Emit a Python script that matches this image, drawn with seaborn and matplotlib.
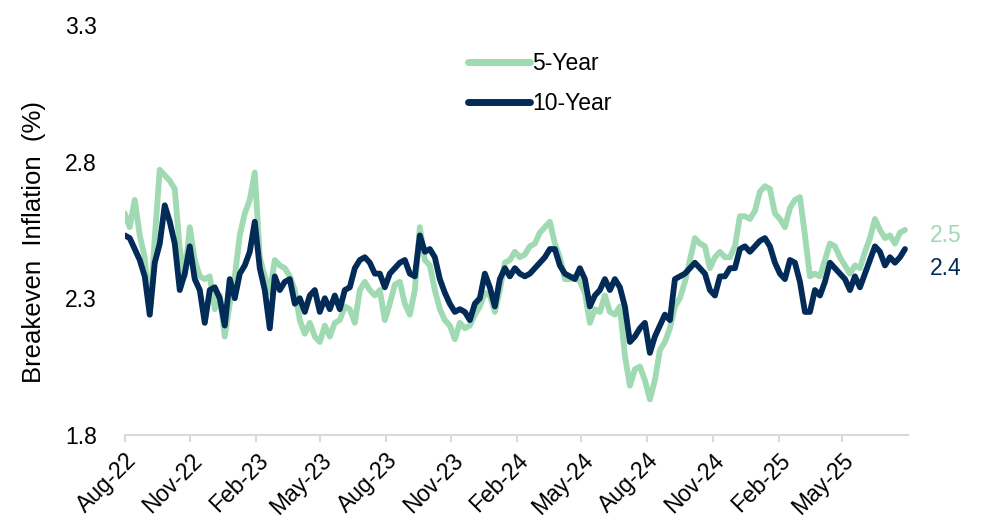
import pandas as pd
import numpy as np
import matplotlib
matplotlib.use("Agg")
import matplotlib.pyplot as plt
import matplotlib.transforms as mtransforms
import seaborn as sns

# weekly readings, starting 1 Aug 2022
start_date = "2022-08-01"

five_year = [
    2.61, 2.56, 2.66, 2.53, 2.45, 2.24, 2.52, 2.77, 2.75, 2.73,
    2.70, 2.48, 2.38, 2.56, 2.44, 2.38, 2.37, 2.38, 2.26, 2.31,
    2.16, 2.28, 2.38, 2.53, 2.61, 2.66, 2.76, 2.45, 2.38, 2.32,
    2.44, 2.42, 2.41, 2.38, 2.33, 2.22, 2.17, 2.21, 2.16, 2.14,
    2.20, 2.16, 2.21, 2.22, 2.27, 2.26, 2.21, 2.33, 2.36, 2.33,
    2.31, 2.33, 2.22, 2.28, 2.35, 2.36, 2.28, 2.24, 2.33, 2.56,
    2.44, 2.42, 2.33, 2.26, 2.22, 2.20, 2.15, 2.21, 2.19, 2.20,
    2.24, 2.27, 2.32, 2.31, 2.25, 2.33, 2.43, 2.44, 2.47, 2.45,
    2.46, 2.49, 2.50, 2.54, 2.56, 2.58, 2.50, 2.45, 2.37, 2.37,
    2.38, 2.36, 2.32, 2.21, 2.26, 2.25, 2.31, 2.25, 2.24, 2.27,
    2.09, 1.98, 2.04, 2.05, 2.00, 1.93, 2.00, 2.11, 2.14, 2.19,
    2.27, 2.30, 2.36, 2.44, 2.52, 2.50, 2.49, 2.41, 2.45, 2.47,
    2.45, 2.45, 2.49, 2.60, 2.60, 2.59, 2.62, 2.69, 2.71, 2.70,
    2.61, 2.59, 2.56, 2.63, 2.66, 2.67, 2.53, 2.38, 2.39, 2.38,
    2.44, 2.50, 2.49, 2.45, 2.42, 2.39, 2.42, 2.41, 2.47, 2.52,
    2.59, 2.55, 2.52, 2.53, 2.50, 2.54, 2.55,
]

ten_year = [
    2.53, 2.52, 2.48, 2.44, 2.38, 2.24, 2.43, 2.50, 2.64, 2.58,
    2.50, 2.33, 2.39, 2.49, 2.37, 2.33, 2.21, 2.33, 2.34, 2.30,
    2.20, 2.37, 2.30, 2.39, 2.42, 2.47, 2.58, 2.41, 2.33, 2.19,
    2.38, 2.33, 2.36, 2.37, 2.28, 2.30, 2.25, 2.31, 2.33, 2.25,
    2.30, 2.26, 2.31, 2.26, 2.33, 2.34, 2.41, 2.44, 2.45, 2.43,
    2.39, 2.39, 2.34, 2.39, 2.41, 2.43, 2.44, 2.39, 2.38, 2.53,
    2.47, 2.48, 2.45, 2.37, 2.32, 2.28, 2.25, 2.26, 2.25, 2.22,
    2.28, 2.30, 2.39, 2.34, 2.27, 2.37, 2.41, 2.38, 2.41, 2.39,
    2.38, 2.39, 2.41, 2.43, 2.45, 2.48, 2.48, 2.42, 2.39, 2.38,
    2.37, 2.41, 2.37, 2.27, 2.31, 2.33, 2.37, 2.33, 2.37, 2.34,
    2.27, 2.14, 2.16, 2.19, 2.21, 2.10, 2.16, 2.20, 2.24, 2.22,
    2.37, 2.38, 2.39, 2.41, 2.43, 2.41, 2.39, 2.33, 2.31, 2.38,
    2.38, 2.41, 2.41, 2.48, 2.49, 2.47, 2.49, 2.51, 2.52, 2.49,
    2.43, 2.39, 2.37, 2.44, 2.43, 2.36, 2.25, 2.25, 2.33, 2.31,
    2.36, 2.43, 2.41, 2.39, 2.37, 2.33, 2.38, 2.34, 2.39, 2.44,
    2.49, 2.47, 2.42, 2.45, 2.43, 2.45, 2.48,
]

series_names = ["5-Year", "10-Year"]
colors = ["#9fdab3", "#032b57"]
end_labels = ["2.5", "2.4"]
y_ticks = [1.8, 2.3, 2.8, 3.3]

dates = pd.date_range(start_date, periods=len(five_year), freq="7D")
df = pd.DataFrame({
    "date": np.concatenate([dates, dates]),
    "value": five_year + ten_year,
    "series": [series_names[0]] * len(five_year) + [series_names[1]] * len(ten_year),
})

sns.set_style("white")
plt.rcParams["font.family"] = ["Liberation Sans", "DejaVu Sans"]
plt.rcParams["text.color"] = "black"
plt.rcParams["xtick.color"] = "black"
plt.rcParams["ytick.color"] = "black"
plt.rcParams["axes.labelcolor"] = "black"

fs = 16.5

fig = plt.figure(figsize=(9.9, 5.31), dpi=100)
ax = fig.add_axes([0.126, 0.181, 0.791, 0.772])

sns.lineplot(data=df, x="date", y="value", hue="series", hue_order=series_names,
             palette=colors, linewidth=4.2, ax=ax)

ax.set_ylim(1.8, 3.3)
ax.set_yticks(y_ticks)
ax.set_yticklabels([f"{t:.1f}" for t in y_ticks], fontsize=fs)
ax.set_xlim(pd.Timestamp("2022-08-01"), pd.Timestamp("2025-08-01"))

xt = pd.date_range("2022-08-01", "2025-05-01", freq="3MS")
ax.set_xticks(xt)
ax.set_xticklabels([d.strftime("%b-%y") for d in xt], rotation=45, ha="right",
                   rotation_mode="anchor", fontsize=fs)

ax.set_xlabel("")
ax.set_ylabel("Breakeven  Inflation  (%)", fontsize=18.5)
ax.yaxis.set_label_coords(-0.1, 0.47)

for s in ["top", "right", "left"]:
    ax.spines[s].set_visible(False)
ax.spines["bottom"].set_color("#d9d9d9")
ax.spines["bottom"].set_linewidth(1.5)
ax.tick_params(axis="x", which="major", length=5, width=1.5, color="#d9d9d9",
               labelcolor="black", direction="out", pad=5, bottom=True)
ax.tick_params(axis="y", length=0, pad=20, labelcolor="black")

# value labels at the right end
trans = mtransforms.blended_transform_factory(ax.transAxes, ax.transData)
ax.text(1.028, 2.53, end_labels[0], color=colors[0], fontsize=fs, va="center", transform=trans)
ax.text(1.028, 2.41, end_labels[1], color=colors[1], fontsize=fs, va="center", transform=trans)

leg = ax.legend(loc="upper left", bbox_to_anchor=(0.412, 0.985), frameon=False,
                fontsize=fs, handlelength=2.7, handletextpad=0.1, labelspacing=0.75)
for line in leg.get_lines():
    line.set_linewidth(5)

fig.savefig("out.png", dpi=100)
